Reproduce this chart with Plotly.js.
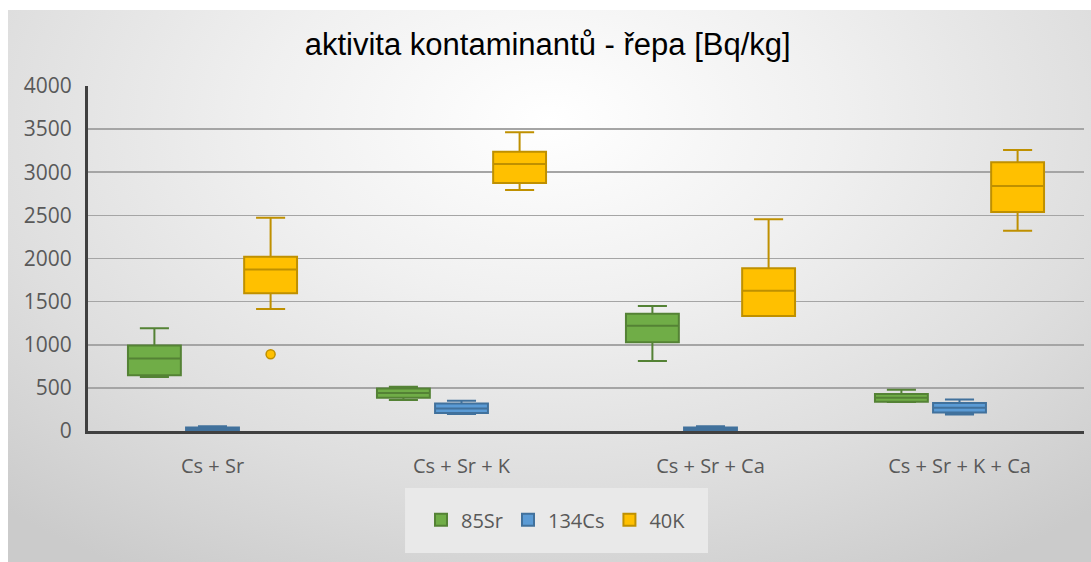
<!DOCTYPE html>
<html>
<head>
<meta charset="utf-8">
<script src="https://cdn.plot.ly/plotly-3.0.1.min.js"></script>
<style>
  html, body { margin: 0; padding: 0; background: #ffffff; width: 1091px; height: 562px; overflow: hidden; }
  #panel { position: absolute; left: 8px; top: 10px; width: 1083px; height: 552px;
    background: radial-gradient(ellipse 75% 95% at 50% 20%, #ffffff 0%, #f0f0f0 35%, #dedede 70%, #cbcbcb 100%); }
  #chart { position: absolute; left: 0; top: 0; width: 1091px; height: 562px; }
</style>
</head>
<body>
<div id="panel"></div>
<div id="chart"></div>
<script>
const categories = ["Cs + Sr", "Cs + Sr + K", "Cs + Sr + Ca", "Cs + Sr + K + Ca"];

// 85Sr
const sr_min = [625, 360, 812, 335];
const sr_q1  = [645, 385, 1028, 340];
const sr_med = [840, 440, 1221, 385];
const sr_q3  = [992, 492, 1360, 428];
const sr_max = [1190, 512, 1449, 478];

// 134Cs
const cs_min = [5, 198, 5, 190];
const cs_q1  = [8, 210, 8, 214];
const cs_med = [25, 262, 25, 270];
const cs_q3  = [42, 320, 42, 326];
const cs_max = [55, 352, 55, 366];

// 40K
const k_min = [1414, 2794, 1333, 2323];
const k_q1  = [1596, 2875, 1334, 2539];
const k_med = [1873, 3096, 1627, 2841];
const k_q3  = [2021, 3239, 1886, 3115];
const k_max = [2473, 3463, 2454, 3258];
const k_outliers = [[890], [], [], []];

const traces = [
  {type: 'box', name: '85Sr', x: categories, q1: sr_q1, median: sr_med, q3: sr_q3,
   lowerfence: sr_min, upperfence: sr_max, boxpoints: false,
   fillcolor: '#70AD47', line: {color: '#548235', width: 2}, whiskerwidth: 0.55},
  {type: 'box', name: '134Cs', x: categories, q1: cs_q1, median: cs_med, q3: cs_q3,
   lowerfence: cs_min, upperfence: cs_max, boxpoints: false,
   fillcolor: '#5B9BD5', line: {color: '#41719C', width: 2}, whiskerwidth: 0.55},
  {type: 'box', name: '40K', x: categories, y: k_outliers, q1: k_q1, median: k_med, q3: k_q3,
   lowerfence: k_min, upperfence: k_max, boxpoints: 'outliers',
   marker: {color: '#FFC000', size: 9, line: {color: '#BF9000', width: 1.5}},
   fillcolor: '#FFC000', line: {color: '#BF9000', width: 2}, whiskerwidth: 0.55}
];

const layout = {
  width: 1091, height: 562,
  paper_bgcolor: 'rgba(0,0,0,0)', plot_bgcolor: 'rgba(0,0,0,0)',
  margin: {l: 88, r: 7, t: 86, b: 131, pad: 0},
  boxmode: 'group', boxgap: 0.30, boxgroupgap: 0.09,
  title: {text: 'aktivita kontaminantů - řepa [Bq/kg]', x: 0.502, xref: 'container',
          y: 0.922, yref: 'container', yanchor: 'middle', xanchor: 'center',
          font: {family: 'Liberation Sans, Arial, sans-serif', size: 31, color: '#000000'}},
  font: {family: 'Open Sans, sans-serif', color: '#595959'},
  xaxis: {type: 'category', showgrid: false, zeroline: false, showline: true,
          linecolor: '#404040', linewidth: 3, ticks: '', ticklabelstandoff: 15,
          tickfont: {size: 20, color: '#595959'}, fixedrange: true},
  yaxis: {range: [0, 4000], dtick: 500, showgrid: true, gridcolor: '#a5a5a5', gridwidth: 1.6,
          zeroline: false, showline: true, linecolor: '#404040', linewidth: 3,
          ticks: '', ticklabelstandoff: 9, tickfont: {size: 21, color: '#595959'}, fixedrange: true},
  shapes: [
    {type: 'rect', xref: 'paper', yref: 'paper', x0: 0.3183, x1: 0.6225, y0: -0.3536, y1: -0.1652,
     fillcolor: '#e9e9e9', line: {width: 0}, layer: 'below'}
  ],
  showlegend: true,
  legend: {orientation: 'h', xref: 'container', yref: 'container', x: 0.5096, y: 0.075,
           xanchor: 'center', yanchor: 'middle', bgcolor: 'rgba(0,0,0,0)', borderwidth: 0,
           font: {size: 20, color: '#595959'}, itemclick: false, itemdoubleclick: false}
};

Plotly.newPlot('chart', traces, layout, {displayModeBar: false, staticPlot: true});
</script>
</body>
</html>
